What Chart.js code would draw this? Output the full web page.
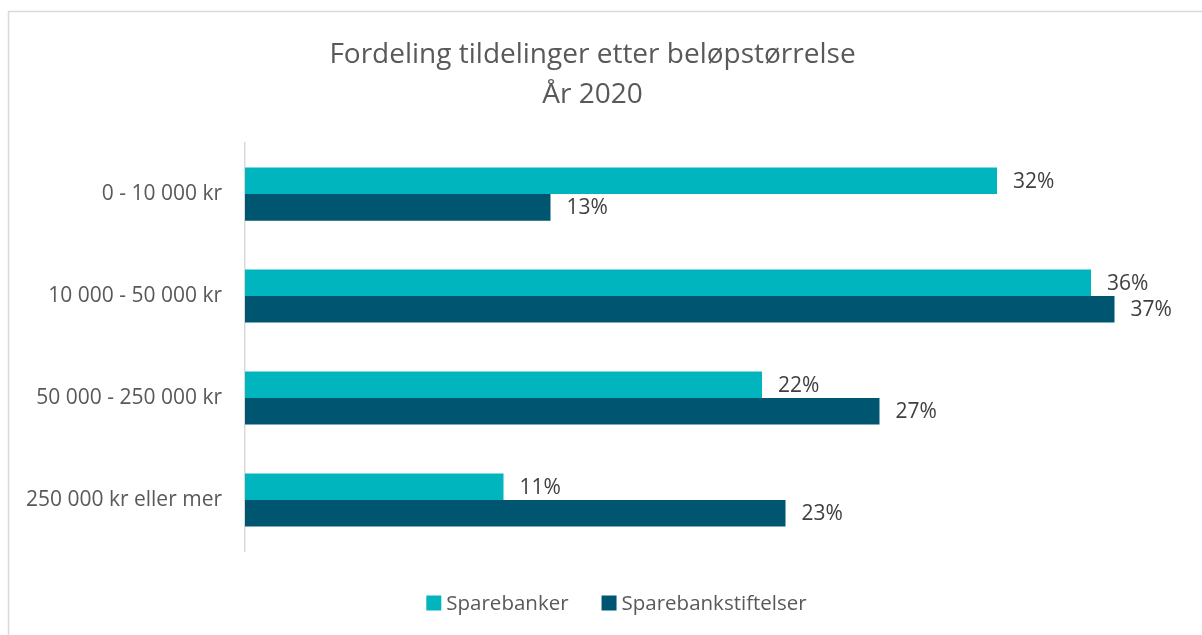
<!DOCTYPE html>
<html>
<head>
<meta charset="utf-8">
<script src="https://cdn.jsdelivr.net/npm/chart.js@4.4.1/dist/chart.umd.min.js"></script>
<style>
html,body{margin:0;padding:0;background:#fff;}
#wrap{position:relative;width:1202px;height:635px;}
</style>
</head>
<body>
<div id="wrap"><canvas id="c" width="1202" height="635"></canvas></div>
<script>
const titleLines = ["Fordeling tildelinger etter beløpstørrelse", "År 2020"];
const categories = ["0 - 10 000 kr", "10 000 - 50 000 kr", "50 000 - 250 000 kr", "250 000 kr eller mer"];
const seriesNames = ["Sparebanker", "Sparebankstiftelser"];
const sparebanker = [32, 36, 22, 11];
const sparebankstiftelser = [13, 37, 27, 23];
const colors = ["#00B5BD", "#005671"];
const FONT = "'Open Sans', sans-serif";

const borderPlugin = {
  id: 'frame',
  beforeDraw(chart) {
    const ctx = chart.ctx;
    ctx.save();
    ctx.strokeStyle = '#d9d9d9';
    ctx.lineWidth = 1.5;
    ctx.beginPath();
    ctx.moveTo(8.5, 640);
    ctx.lineTo(8.5, 11.5);
    ctx.lineTo(1210, 11.5);
    ctx.stroke();
    ctx.restore();
  }
};

const labelPlugin = {
  id: 'valueLabels',
  afterDatasetsDraw(chart) {
    const ctx = chart.ctx;
    ctx.save();
    ctx.font = "21px " + FONT;
    ctx.fillStyle = '#404040';
    ctx.textAlign = 'left';
    ctx.textBaseline = 'middle';
    chart.data.datasets.forEach((ds, di) => {
      const meta = chart.getDatasetMeta(di);
      meta.data.forEach((bar, i) => {
        ctx.fillText(ds.data[i] + '%', bar.x + 16, bar.y + 1);
      });
    });
    ctx.restore();
  }
};

const legendPlugin = {
  id: 'customLegend',
  afterDraw(chart) {
    const ctx = chart.ctx;
    ctx.save();
    ctx.font = "20.5px " + FONT;
    const box = 15, gapText = 5, gapItem = 33;
    const items = chart.data.datasets.map(ds => ({ label: ds.label, color: ds.backgroundColor, w: ctx.measureText(ds.label).width }));
    const total = items.reduce((s, it) => s + box + gapText + it.w, 0) + gapItem * (items.length - 1);
    const cy = 603;
    let x = 616.5 - total / 2;
    ctx.textBaseline = 'middle';
    ctx.textAlign = 'left';
    items.forEach(it => {
      ctx.fillStyle = it.color;
      ctx.fillRect(x, cy - box / 2, box, box);
      ctx.fillStyle = '#595959';
      ctx.fillText(it.label, x + box + gapText, cy + 1);
      x += box + gapText + it.w + gapItem;
    });
    ctx.restore();
  }
};

new Chart(document.getElementById('c'), {
  type: 'bar',
  data: {
    labels: categories,
    datasets: [
      { label: seriesNames[0], data: sparebanker, backgroundColor: colors[0], categoryPercentage: 0.52, barPercentage: 1 },
      { label: seriesNames[1], data: sparebankstiftelser, backgroundColor: colors[1], categoryPercentage: 0.52, barPercentage: 1 }
    ]
  },
  options: {
    indexAxis: 'y',
    responsive: false,
    animation: false,
    layout: { padding: { left: 0, right: 17, top: 0, bottom: 0 } },
    plugins: {
      title: {
        display: true,
        text: titleLines,
        color: '#595959',
        font: { family: FONT, size: 28, weight: 'normal', lineHeight: 1.44 },
        padding: { top: 34.5, bottom: 28 }
      },
      legend: { display: false },
      tooltip: { enabled: false }
    },
    scales: {
      x: {
        min: 0, max: 40,
        display: true,
        grid: { display: false, drawTicks: false },
        border: { display: false },
        ticks: { display: false },
        afterFit(scale) { scale.height = 84; }
      },
      y: {
        grid: { display: false, drawTicks: false },
        border: { display: true, color: '#d9d9d9', width: 1.5 },
        ticks: { color: '#595959', font: { family: FONT, size: 21 }, padding: 23 },
        afterFit(scale) { scale.width = 245; }
      }
    }
  },
  plugins: [borderPlugin, labelPlugin, legendPlugin]
});
</script>
</body>
</html>
